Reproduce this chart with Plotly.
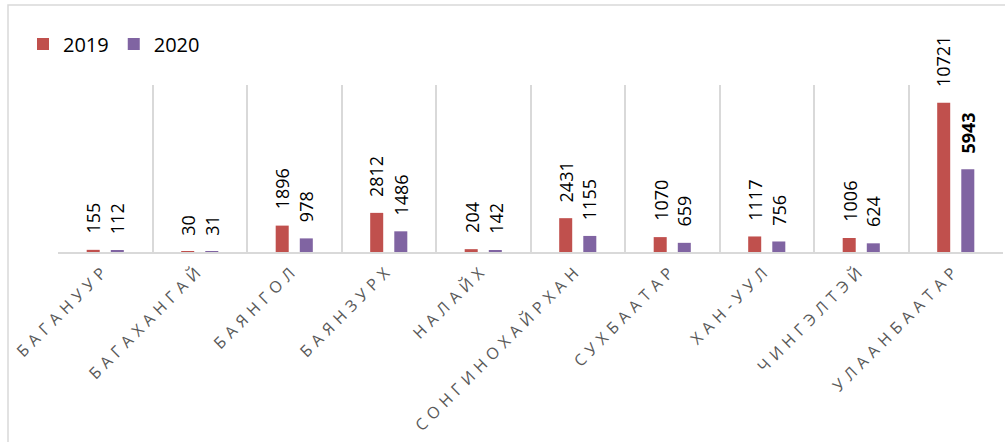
import plotly.graph_objects as go

categories = ["БАГАНУУР", "БАГАХАНГАЙ", "БАЯНГОЛ", "БАЯНЗУРХ", "НАЛАЙХ",
              "СОНГИНОХАЙРХАН", "СУХБААТАР", "ХАН-УУЛ", "ЧИНГЭЛТЭЙ", "УЛААНБААТАР"]
values_2019 = [155, 30, 1896, 2812, 204, 2431, 1070, 1117, 1006, 10721]
values_2020 = [112, 31, 978, 1486, 142, 1155, 659, 756, 624, 5943]
series_names = ["2019", "2020"]
colors = ["#C0504D", "#8064A2"]

W, H = 1005, 442
ML, MR, MT, MB = 58, 2, 85, 190
pw, ph = W - ML - MR, H - MT - MB

fig = go.Figure()
for name, vals, col in zip(series_names, [values_2019, values_2020], colors):
    fig.add_trace(go.Bar(x=categories, y=vals, name=name, marker_color=col,
                         marker_line_width=0))

annotations = []
for vals, shift in [(values_2019, -12), (values_2020, 12)]:
    for c, v in zip(categories, vals):
        txt = str(v)
        if c == "УЛААНБААТАР" and shift > 0:
            txt = "<b>%s</b>" % v
        annotations.append(dict(x=c, y=v, xref="x", yref="y", text=txt,
                                showarrow=False, textangle=-90, yanchor="bottom",
                                xanchor="center", xshift=shift, yshift=14,
                                font=dict(family="Open Sans", size=18, color="#000000")))

fig.update_layout(
    width=W, height=H,
    margin=dict(l=ML, r=MR, t=MT, b=MB),
    paper_bgcolor="white", plot_bgcolor="white",
    barmode="group", bargap=0.49, bargroupgap=0.46,
    showlegend=True,
    legend=dict(orientation="h", x=(23 - ML) / pw, xanchor="left",
                y=(H - MB - 44) / ph, yanchor="middle",
                font=dict(family="Open Sans", size=20, color="#000000"),
                bgcolor="rgba(0,0,0,0)"),
    annotations=annotations,
    shapes=[dict(type="rect", xref="paper", yref="paper",
                 x0=(8 - ML) / pw, x1=(1012 - ML) / pw,
                 y0=(H - MB - 460) / ph, y1=(H - MB - 5) / ph,
                 line=dict(color="#D9D9D9", width=1.5), fillcolor="rgba(0,0,0,0)",
                 layer="below")],
)
fig.update_xaxes(type="category", tickson="boundaries", showgrid=True,
                 gridcolor="#D9D9D9", gridwidth=1.5,
                 showline=True, linecolor="#D9D9D9", linewidth=1.5,
                 ticks="outside", ticklen=29, tickcolor="rgba(0,0,0,0)",
                 tickangle=-45, automargin=False,
                 tickfont=dict(family="Open Sans", size=16, color="#595959"))
fig.update_yaxes(range=[0, 12000], showgrid=False, showticklabels=False,
                 zeroline=False, showline=False, automargin=False)

post = """
document.body.style.margin='0';
document.querySelectorAll('.xtick text').forEach(function(t){
  t.style.letterSpacing='5.5px';
});
"""
fig.write_html("out.html", post_script=post, config={"displayModeBar": False})
